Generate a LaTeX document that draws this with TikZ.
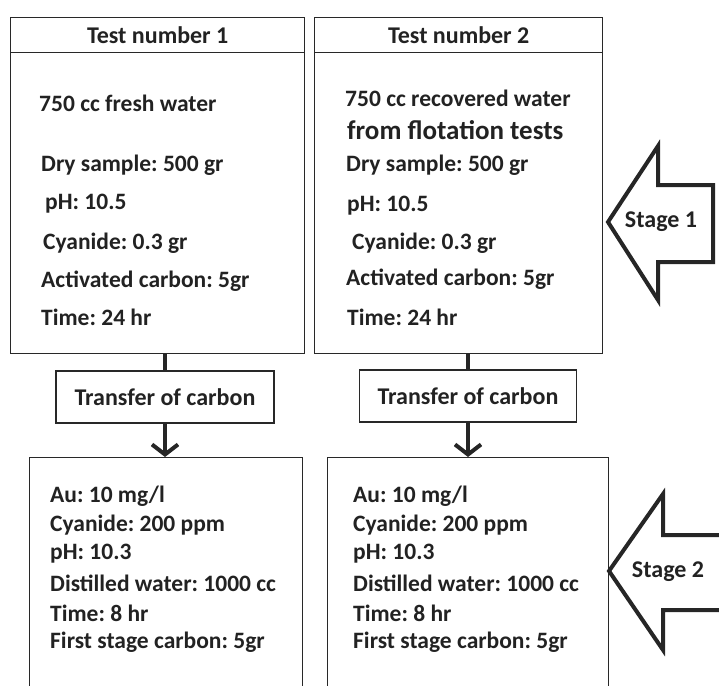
\documentclass[tikz,border=0pt]{standalone}
\usepackage{fontspec}
\setmainfont{Carlito}
\frenchspacing
\usetikzlibrary{arrows.meta}
\definecolor{inkgray}{RGB}{34,34,34}
\definecolor{linegray}{RGB}{40,40,40}

\begin{document}
\begin{tikzpicture}[x=1pt, y=-1pt,
    boxframe/.style={draw=linegray, line width=1.4pt, anchor=north west, inner sep=0pt},
    txt/.style={anchor=west, inner sep=0pt, text=inkgray, font=\fontsize{23.5}{27}\bfseries\selectfont},
    headtxt/.style={text=inkgray, font=\fontsize{24}{28}\bfseries\selectfont},
    transbox/.style={draw=linegray, line width=1.4pt, minimum height=52pt, text=inkgray, font=\fontsize{24}{28}\bfseries\selectfont},
    stem/.style={line width=4pt, draw=black!85},
    stagearrow/.style={draw=black!85, line width=4pt, line join=miter}]
    \useasboundingbox (0,0) rectangle (719,685);
    \clip (0,0) rectangle (719,685);

    % Test 1
    \node[boxframe, minimum width=294pt, minimum height=35pt] (head1) at (10,17) {};
    \node[headtxt] (title1) at (head1.center) {Test number 1};
    \node[boxframe, minimum width=294pt, minimum height=301pt] (body1) at (10,52) {};
    \node[txt] (water1) at (39,103) {750 cc fresh water};
    \node[txt] (dry1) at (41,165) {Dry sample: 500 gr};
    \node[txt] (ph1) at (45,204) {pH: 10.5};
    \node[txt] (cn1) at (43,243) {Cyanide: 0.3 gr};
    \node[txt] (ac1) at (41,281) {Activated carbon: 5gr};
    \node[txt] (time1) at (41,317) {Time: 24 hr};

    % Test 2
    \node[boxframe, minimum width=288pt, minimum height=35pt] (head2) at (314,17) {};
    \node[headtxt] (title2) at (head2.center) {Test number 2};
    \node[boxframe, minimum width=288pt, minimum height=301pt] (body2) at (314,52) {};
    \node[txt] (water2) at (345,98) {750 cc recovered water};
    \node[txt, font=\fontsize{27}{31}\bfseries\selectfont] (flot2) at (347,130) {from flotation tests};
    \node[txt] (dry2) at (346,165) {Dry sample: 500 gr};
    \node[txt] (ph2) at (347,206) {pH: 10.5};
    \node[txt] (cn2) at (352,243) {Cyanide: 0.3 gr};
    \node[txt] (ac2) at (346,279) {Activated carbon: 5gr};
    \node[txt] (time2) at (347,317) {Time: 24 hr};

    % Transfer of carbon
    \node[transbox, minimum width=218pt] (trans1) at (165,397) {Transfer of carbon};
    \node[transbox, minimum width=217pt] (trans2) at (468,396) {Transfer of carbon};

    % Stage 2 boxes (open at the bottom)
    \node[boxframe, minimum width=273pt, minimum height=260pt] (res1) at (29,457) {};
    \node[boxframe, minimum width=281pt, minimum height=260pt] (res2) at (327,457) {};
    \foreach \name/\xx in {a/50, b/353} {
        \node[txt] (au\name) at (\xx,496) {Au: 10 mg/l};
        \node[txt] (cy\name) at (\xx,525) {Cyanide: 200 ppm};
        \node[txt] (ph\name) at (\xx,554) {pH: 10.3};
        \node[txt] (dw\name) at (\xx,583) {Distilled water: 1000 cc};
        \node[txt] (tm\name) at (\xx,613) {Time: 8 hr};
        \node[txt] (fs\name) at (\xx,642) {First stage carbon: 5gr};
    }

    % Connectors
    \draw[stem] (body1.south -| trans1) -- (trans1.north);
    \draw[stem, -{Straight Barb[length=10pt, width=26pt]}] (trans1.south) -- (res1.north -| trans1);
    \draw[stem] (body2.south -| trans2) -- (trans2.north);
    \draw[stem, -{Straight Barb[length=10pt, width=26pt]}] (trans2.south) -- (res2.north -| trans2);

    % Stage arrows
    \draw[stagearrow] (608,222) -- (658,146) -- (658,185) -- (713,185) -- (713,262) -- (658,262) -- (658,300) -- cycle;
    \node[headtxt] (stage1) at (661,222) {Stage 1};
    \draw[stagearrow] (609,571) -- (663,494) -- (663,535) -- (735,535) -- (735,610) -- (663,610) -- (663,650) -- cycle;
    \node[headtxt] (stage2) at (668,572) {Stage 2};
\end{tikzpicture}
\end{document}
